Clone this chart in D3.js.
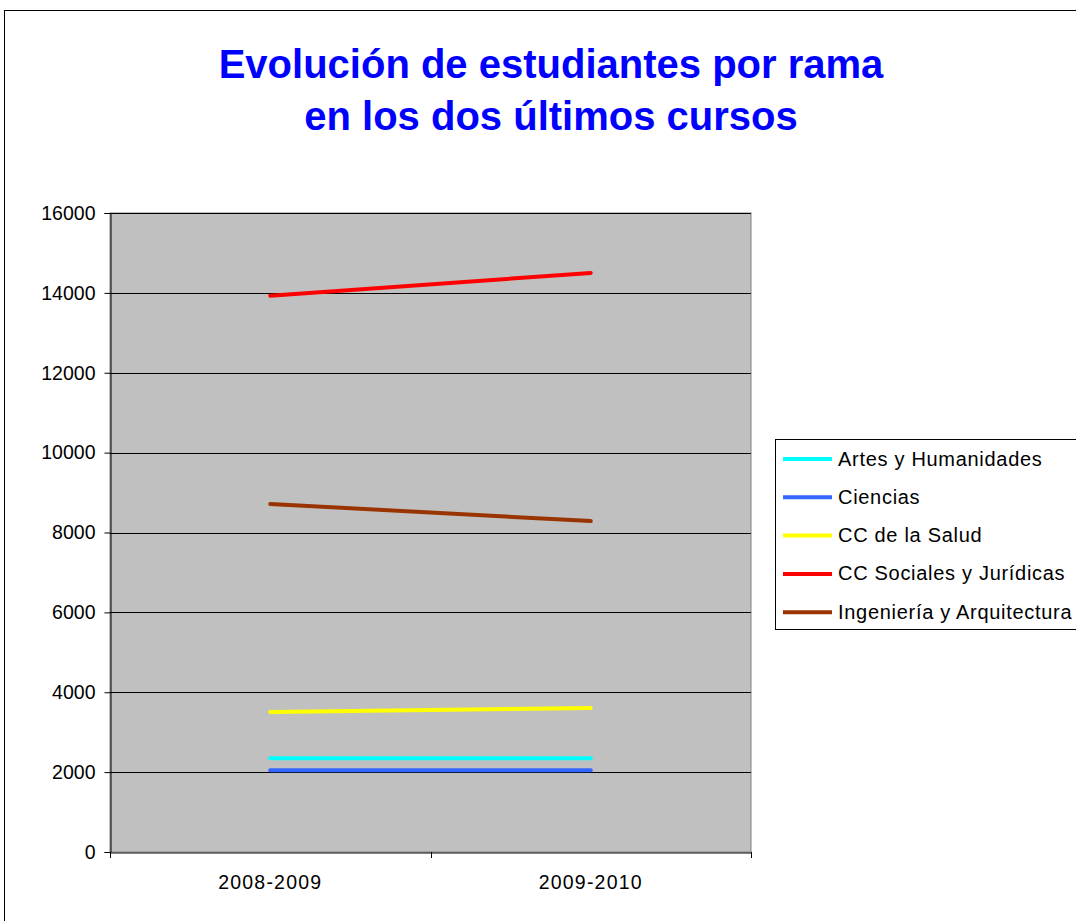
<!DOCTYPE html>
<html><head><meta charset="utf-8">
<script src="https://cdn.jsdelivr.net/npm/d3@7"></script>
<style>body{margin:0;background:#fff}svg{display:block}</style>
</head><body>
<script>
const categories = ["2008-2009", "2009-2010"];
const seriesNames = ["Artes y Humanidades", "Ciencias", "CC de la Salud", "CC Sociales y Jurídicas", "Ingeniería y Arquitectura"];
const artes = [2350, 2350];
const ciencias = [2050, 2050];
const salud = [3505, 3605];
const sociales = [13930, 14500];
const ingenieria = [8715, 8285];
const yTicks = [0, 2000, 4000, 6000, 8000, 10000, 12000, 14000, 16000];
const colors = ["#00FFFF", "#3366FF", "#FFFF00", "#FF0000", "#993300"];
const seriesValues = [artes, ciencias, salud, sociales, ingenieria];

(function () {
const W = 1076, H = 921;
const FF = "Liberation Sans, Arial, sans-serif";
const svg = d3.select("body").append("svg").attr("width", W).attr("height", H);
svg.append("rect").attr("x", 4.5).attr("y", 10.5).attr("width", 1100).attr("height", 1000)
  .attr("fill", "#fff").attr("stroke", "#000").attr("stroke-width", 1);

const title = svg.append("text").attr("text-anchor", "middle")
  .attr("font-family", FF).attr("font-weight", "bold")
  .attr("font-size", 40).attr("fill", "#0000FF");
title.append("tspan").attr("x", 551).attr("y", 78).text("Evolución de estudiantes por rama");
title.append("tspan").attr("x", 551).attr("y", 130).text("en los dos últimos cursos");

const pL = 110, pR = 751, pT = 213, pB = 852;
const x = d3.scaleBand().domain(categories).range([pL, pR]);
const y = d3.scaleLinear().domain([0, 16000]).range([pB, pT]);

svg.append("rect").attr("x", pL).attr("y", pT).attr("width", pR - pL).attr("height", pB - pT)
  .attr("fill", "#C0C0C0").attr("stroke", "#808080").attr("stroke-width", 1);

svg.append("g").selectAll("line").data(yTicks.filter(d => d > 0)).join("line")
  .attr("x1", pL).attr("x2", pR).attr("y1", d => Math.round(y(d)) + 0.5).attr("y2", d => Math.round(y(d)) + 0.5)
  .attr("stroke", "#000").attr("stroke-width", 1);

const yAxis = svg.append("g").attr("transform", `translate(${pL + 0.5},0)`)
  .call(d3.axisLeft(y).tickValues(yTicks).tickSize(6).tickPadding(9).tickFormat(d3.format("d")));
yAxis.select(".domain").attr("stroke", "#000");
yAxis.selectAll("text").attr("font-family", FF).attr("font-size", 19.5).attr("fill", "#000");

const xAxis = svg.append("g").attr("transform", `translate(0,${pB + 0.5})`)
  .call(d3.axisBottom(x).tickSize(0).tickPadding(23));
xAxis.select(".domain").attr("stroke", "#000");
xAxis.selectAll("text").attr("font-family", FF).attr("font-size", 19.5).attr("letter-spacing", 1.2).attr("fill", "#000");
const bounds = [pL, pL + x.step(), pR];
svg.append("g").selectAll("line").data(bounds).join("line")
  .attr("x1", d => Math.round(d) + 0.5).attr("x2", d => Math.round(d) + 0.5)
  .attr("y1", pB).attr("y2", pB + 6).attr("stroke", "#000");

const line = d3.line().x((d, i) => x(categories[i]) + x.bandwidth() / 2).y(d => y(d));
svg.append("g").selectAll("path").data(seriesValues).join("path")
  .attr("d", d => line(d)).attr("fill", "none")
  .attr("stroke", (d, i) => colors[i]).attr("stroke-width", 4).attr("stroke-linecap", "round");

const lg = svg.append("g");
lg.append("rect").attr("x", 775.5).attr("y", 439.5).attr("width", 305).attr("height", 190)
  .attr("fill", "#fff").attr("stroke", "#000");
const rows = lg.selectAll("g").data(seriesNames).join("g")
  .attr("transform", (d, i) => `translate(0,${459 + i * 38.3})`);
rows.append("line").attr("x1", 783).attr("x2", 832).attr("y1", 0).attr("y2", 0)
  .attr("stroke", (d, i) => colors[i]).attr("stroke-width", 4);
rows.append("text").attr("x", 838).attr("y", 6.5).text(d => d)
  .attr("font-family", FF).attr("font-size", 20).attr("letter-spacing", 0.7).attr("fill", "#000");
})();
</script>
</body></html>
